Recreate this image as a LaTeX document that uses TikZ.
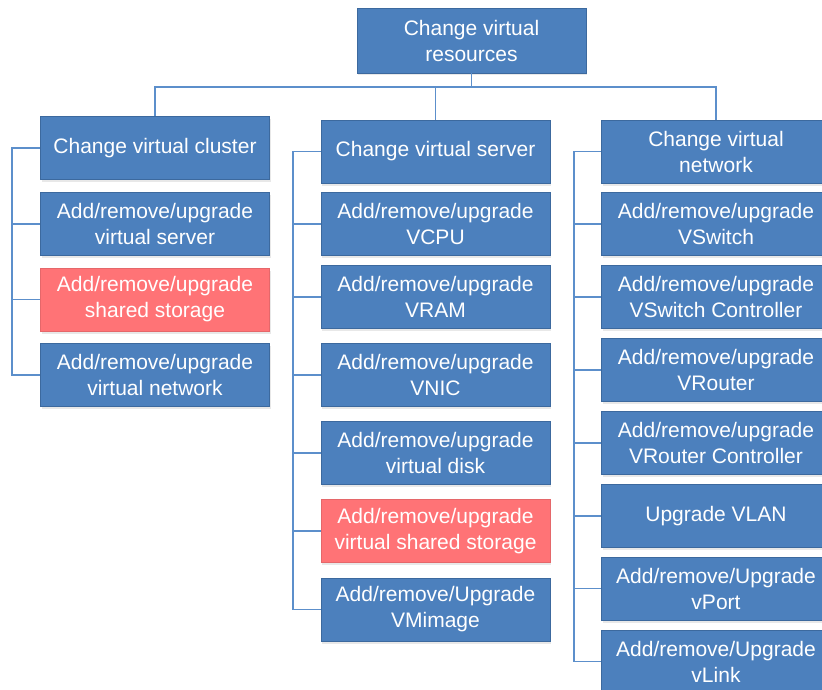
\documentclass[tikz,border=0pt]{standalone}
\usepackage{fontspec}
\setmainfont{Liberation Sans}
\usetikzlibrary{shadows}
\definecolor{boxblue}{RGB}{76,128,189}
\definecolor{boxedge}{RGB}{60,105,158}
\definecolor{boxred}{RGB}{255,115,118}
\definecolor{linkblue}{RGB}{92,143,203}
\tikzset{
  cell/.style={draw=boxedge, line width=0.8pt, fill=boxblue, text=white,
    minimum width=229pt, minimum height=63pt, inner sep=0pt, align=center,
    font=\fontsize{21}{26}\selectfont,
    drop shadow={opacity=0.18, shadow xshift=1pt, shadow yshift=-2.5pt}},
  redcell/.style={cell, draw=boxred!90!black, fill=boxred},
  link/.style={draw=linkblue, line width=1.8pt}
}
\begin{document}
\begin{tikzpicture}[x=1pt,y=-1pt]
\useasboundingbox (0,0) rectangle (822,690);
\clip (0,0) rectangle (822,690);
\fill[white] (0,0) rectangle (822,690);
% top
\node[cell, minimum height=65pt] (top) at (471.5,40.5) {Change virtual\\resources};
% column 1
\node[cell] (c1h) at (155,148) {Change virtual cluster};
\node[cell] (c1a) at (155,224) {Add/remove/upgrade\\virtual server};
\node[redcell] (c1b) at (155,299.5) {Add/remove/upgrade\\shared storage};
\node[cell] (c1c) at (155,375) {Add/remove/upgrade\\virtual network};
% column 2
\node[cell] (c2h) at (435.5,151.5) {Change virtual server};
\node[cell] (c2a) at (435.5,224) {Add/remove/upgrade\\VCPU};
\node[cell] (c2b) at (435.5,297) {Add/remove/upgrade\\VRAM};
\node[cell] (c2c) at (435.5,375) {Add/remove/upgrade\\VNIC};
\node[cell] (c2d) at (435.5,453) {Add/remove/upgrade\\virtual disk};
\node[redcell] (c2e) at (435.5,531) {Add/remove/upgrade\\virtual shared storage};
\node[cell] (c2f) at (435.5,609.5) {Add/remove/Upgrade\\VMimage};
% column 3
\node[cell] (c3h) at (716,151.5) {Change virtual\\network};
\node[cell] (c3a) at (716,224) {Add/remove/upgrade\\VSwitch};
\node[cell] (c3b) at (716,297) {Add/remove/upgrade\\VSwitch Controller};
\node[cell] (c3c) at (716,370) {Add/remove/upgrade\\VRouter};
\node[cell] (c3d) at (716,443) {Add/remove/upgrade\\VRouter Controller};
\node[cell] (c3e) at (716,516) {Upgrade VLAN};
\node[cell] (c3f) at (716,588.5) {Add/remove/Upgrade\\vPort};
\node[cell] (c3g) at (716,661.5) {Add/remove/Upgrade\\vLink};
% top connectors
\coordinate (bus) at (471.5,87);
\draw[link] (top.south) -- (bus);
\draw[link] (c1h.north) |- (bus) -| (c3h.north);
\draw[link] (c2h.north) -- (c2h.north |- bus);
% left buses
\coordinate (l1) at (12,0);
\coordinate (l2) at (293,0);
\coordinate (l3) at (574,0);
\draw[link] (c1h.west) -| (l1 |- c1c.west) -- (c1c.west);
\foreach \n in {c1a,c1b} \draw[link] (l1 |- \n.west) -- (\n.west);
\draw[link] (c2h.west) -| (l2 |- c2f.west) -- (c2f.west);
\foreach \n in {c2a,c2b,c2c,c2d,c2e} \draw[link] (l2 |- \n.west) -- (\n.west);
\draw[link] (c3h.west) -| (l3 |- c3g.west) -- (c3g.west);
\foreach \n in {c3a,c3b,c3c,c3d,c3e,c3f} \draw[link] (l3 |- \n.west) -- (\n.west);
\end{tikzpicture}
\end{document}
